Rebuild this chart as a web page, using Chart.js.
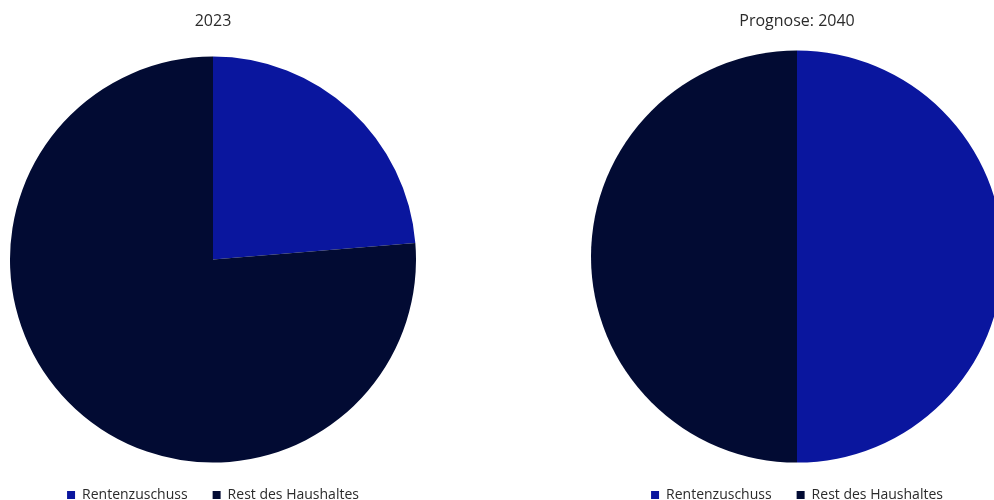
<!DOCTYPE html>
<html>
<head>
<meta charset="utf-8">
<script src="https://cdn.jsdelivr.net/npm/chart.js@4.4.0/dist/chart.umd.min.js"></script>
<style>
  html, body { margin: 0; padding: 0; background: #fff; overflow: hidden; }
  body { width: 994px; height: 500px; position: relative; }
  .box { position: absolute; top: 0; height: 512px; }
  #left { left: 10px; width: 406px; }
  #right { left: 591px; width: 412px; }
</style>
</head>
<body>
<div class="box" id="left"><canvas id="chart2023"></canvas></div>
<div class="box" id="right"><canvas id="chart2040"></canvas></div>
<script>
const categories = ["Rentenzuschuss", "Rest des Haushaltes"];
const share2023 = [23.7, 76.3];
const share2040 = [50, 50];
const sliceColors = ["#0a169e", "#020b33"];

function makePie(el, title, values, titleBottom) {
  return new Chart(el, {
    type: "pie",
    data: {
      labels: categories,
      datasets: [
        {
          data: values,
          backgroundColor: sliceColors,
          borderWidth: 0,
        },
      ],
    },
    options: {
      responsive: true,
      maintainAspectRatio: false,
      animation: false,
      plugins: {
        title: {
          display: true,
          text: title,
          color: "#2b2b2b",
          font: { family: "Open Sans", size: 16, weight: "normal" },
          padding: { top: 12, bottom: titleBottom },
        },
        legend: {
          position: "bottom",
          labels: {
            color: "#2b2b2b",
            font: { family: "Open Sans", size: 14 },
            boxWidth: 8,
            boxHeight: 8,
            padding: 25,
          },
        },
        tooltip: { enabled: false },
      },
    },
  });
}

document.addEventListener("DOMContentLoaded", () => {
  makePie(document.getElementById("chart2023"), "2023", share2023, 25);
  makePie(document.getElementById("chart2040"), "Prognose: 2040", share2040, 19);
});
</script>
</body>
</html>
